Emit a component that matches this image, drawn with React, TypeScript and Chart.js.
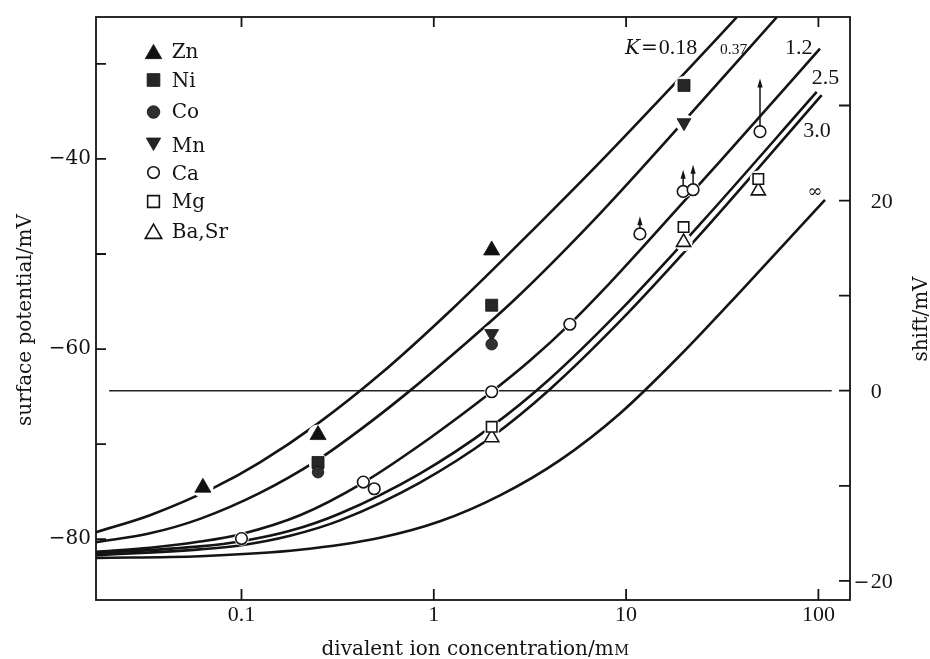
import React, { useEffect, useRef } from 'react';
import { Chart, registerables } from 'chart.js';
import { drawPoint } from 'chart.js/helpers';

Chart.register(...registerables);

// ---------------- data ----------------
const concTicks = [0.1, 1, 10, 100];
const concTickLabels = ['0.1', '1', '10', '100'];
const potTicks = [-80, -70, -60, -50, -40, -30];
const potTickLabels = ['−80', '', '−60', '', '−40', ''];
const shiftTicks = [-20, -10, 0, 10, 20, 30];
const shiftTickLabels = ['−20', '', '0', '', '20', ''];

const curveLabels = ['0.18', '0.37', '1.2', '2.5', '3.0', '∞'];

const k018Conc = [0.0175, 0.03343, 0.07282, 0.1248, 0.247, 0.5252, 1.243, 3.567, 7.317, 19.77, 37.73];
const k018Pot = [-79.27, -77.48, -74.53, -71.92, -67.9, -62.66, -55.81, -46.72, -40.34, -31.15, -25.07];

const k037Conc = [0.0175, 0.03343, 0.06083, 0.1248, 0.2461, 0.4132, 0.7228, 1.369, 2.644, 7.317, 22.28, 60.91];
const k037Pot = [-80.31, -79.38, -77.86, -75.13, -71.74, -68.5, -64.66, -59.91, -54.76, -45.75, -34.98, -25.07];

const k12Conc = [0.0175, 0.03343, 0.06083, 0.1002, 0.2014, 0.4299, 0.9554, 2.0, 3.165, 5.108, 8.246, 13.31, 30.78, 101.9];
const k12Pot = [-81.33, -80.9, -80.25, -79.44, -77.48, -74.04, -69.35, -64.5, -61.21, -57.35, -53.03, -48.44, -40.25, -28.41];

const k25Conc = [0.0175, 0.06083, 0.1002, 0.1788, 0.3252, 0.8476, 2.0, 4.021, 9.297, 24.23, 97.99];
const k25Pot = [-81.47, -80.75, -80.21, -79.12, -77.29, -73.09, -68.13, -63.12, -55.96, -46.87, -32.95];

const k30Conc = [0.0175, 0.06083, 0.1002, 0.1788, 0.3252, 0.8476, 2.0, 4.021, 9.297, 24.23, 104.0];
const k30Pot = [-81.68, -81.07, -80.63, -79.64, -78.02, -74.04, -69.23, -64.22, -57.07, -47.97, -33.28];

const kInfConc = [0.0175, 0.06083, 0.2014, 0.5252, 1.077, 2.21, 4.532, 9.297, 19.07, 39.11, 108.2];
const kInfPot = [-81.96, -81.79, -81.11, -79.85, -78.12, -75.39, -71.68, -66.77, -60.67, -54.0, -44.3];

const zeroLineConc = [0.0205, 117.3];
const zeroLineShift = [0, 0];

const znConc = [0.063, 0.25, 2.0];
const znPot = [-74.57, -69.03, -49.61];
const niConc = [0.25, 2.0, 20];
const niPot = [-71.93, -55.39, -32.27];
const coConc = [0.25, 2.0];
const coPot = [-72.95, -59.49];
const mnConc = [2.0, 20];
const mnPot = [-58.37, -36.19];
const caConc = [0.1, 0.43, 0.49, 2.0, 5.1, 11.8, 19.8, 22.3, 49.7];
const caPot = [-79.93, -73.99, -74.69, -64.49, -57.39, -47.89, -43.42, -43.24, -37.13];
const caLowerBoundTo: (number | null)[] = [null, null, null, null, null, -46.04, -41.14, -40.62, -31.54];
const mgConc = [2.0, 19.9, 48.7];
const mgPot = [-68.18, -47.17, -42.11];
const baSrConc = [2.0, 19.9, 48.7];
const baSrPot = [-69.31, -48.77, -43.35];

// ---------------- styling ----------------
const TEXT_FONT = '"DejaVu Serif", "Liberation Serif", serif';
const NUM_FONT = '"Liberation Serif", "DejaVu Serif", serif';
const INK = '#141414';

const pts = (xs: number[], ys: number[]) => xs.map((x, i) => ({ x, y: ys[i] }));

const curves = [
  [k018Conc, k018Pot],
  [k037Conc, k037Pot],
  [k12Conc, k12Pot],
  [k25Conc, k25Pot],
  [k30Conc, k30Pot],
  [kInfConc, kInfPot],
];

type Series = {
  label: string; conc: number[]; pot: number[]; style: string; rot: number;
  r: number; legendR: number; fill: string; bw: number; order: number; halo: number;
};

const markerSeries: Series[] = [
  { label: 'Zn', conc: znConc, pot: znPot, style: 'triangle', rot: 0, r: 9.3, legendR: 9.5, fill: '#111', bw: 0.8, order: 1, halo: 10.5 },
  { label: 'Ni', conc: niConc, pot: niPot, style: 'rect', rot: 0, r: 8.5, legendR: 9, fill: '#262626', bw: 0.8, order: 1, halo: 9.5 },
  { label: 'Co', conc: coConc, pot: coPot, style: 'circle', rot: 0, r: 5.8, legendR: 6.3, fill: '#303030', bw: 0.8, order: 0, halo: 7.3 },
  { label: 'Mn', conc: mnConc, pot: mnPot, style: 'triangle', rot: 180, r: 8, legendR: 8.3, fill: '#262626', bw: 0.8, order: 1, halo: 9 },
  { label: 'Ca', conc: caConc, pot: caPot, style: 'circle', rot: 0, r: 5.8, legendR: 5.8, fill: '#ffffff', bw: 1.6, order: 1, halo: 7.3 },
  { label: 'Mg', conc: mgConc, pot: mgPot, style: 'rect', rot: 0, r: 7.4, legendR: 8.3, fill: '#ffffff', bw: 1.6, order: 1, halo: 8.5 },
  { label: 'Ba,Sr', conc: baSrConc, pot: baSrPot, style: 'triangle', rot: 0, r: 8.2, legendR: 9.5, fill: '#ffffff', bw: 1.6, order: 1, halo: 9 },
];

// layout of annotations (positions in data units of the axes)
const curveLabelAnchors = [
  { c: 9.87, v: -28.92, size: 22 },
  { c: 30.8, v: -28.92, size: 15.5 },
  { c: 67.05, v: -28.92, size: 22 },
  { c: 92.3, v: -32.07, size: 22 },
  { c: 83.5, v: -37.65, size: 22 },
  { c: 96.0, v: -43.52, size: 18 },
];
const LEGEND_MARK_X = 153.5;
const LEGEND_TEXT_X = 171.7;
const legendMarkY = [53.9, 80, 112, 142.2, 172.5, 201.5, 233.6];
const legendTextBase = [58.3, 87.3, 118.3, 151.7, 180, 208, 238.3];

const decorPlugin = {
  id: 'decor',
  afterDatasetsDraw(chart: any) {
    const { ctx, chartArea: a, scales } = chart;
    const x = scales.x, y = scales.y, y2 = scales.y2;
    ctx.save();

    // frame
    ctx.strokeStyle = INK;
    ctx.lineWidth = 1.8;
    ctx.strokeRect(a.left, a.top, a.right - a.left, a.bottom - a.top);

    // inward tick marks
    ctx.beginPath();
    potTicks.forEach((v) => {
      const p = y.getPixelForValue(v);
      ctx.moveTo(a.left, p); ctx.lineTo(a.left + 10, p);
    });
    shiftTicks.forEach((v) => {
      const p = y2.getPixelForValue(v);
      ctx.moveTo(a.right, p); ctx.lineTo(a.right - 11, p);
    });
    concTicks.forEach((v) => {
      const p = x.getPixelForValue(v);
      ctx.moveTo(p, a.bottom); ctx.lineTo(p, a.bottom - 11);
      ctx.moveTo(p, a.top); ctx.lineTo(p, a.top + 10);
    });
    ctx.stroke();

    // right axis labels (digits aligned, minus hanging)
    ctx.fillStyle = INK;
    shiftTicks.forEach((v, i) => {
      const lab = shiftTickLabels[i];
      if (!lab) return;
      const p = y2.getPixelForValue(v) + 7.4;
      const digits = lab.replace('−', '');
      ctx.font = `22px ${NUM_FONT}`;
      ctx.textAlign = 'left';
      ctx.textBaseline = 'alphabetic';
      ctx.fillText(digits, a.right + 20.7, p);
      if (lab.startsWith('−')) {
        ctx.font = `19px ${TEXT_FONT}`;
        ctx.textAlign = 'right';
        ctx.fillText('−', a.right + 19.5, p);
      }
    });

    // Ca lower-bound arrows
    ctx.lineWidth = 1.5;
    caConc.forEach((c, i) => {
      const tip = caLowerBoundTo[i];
      if (tip == null) return;
      const px = x.getPixelForValue(c);
      const py0 = y.getPixelForValue(caPot[i]) - 5.8;
      const py1 = y.getPixelForValue(tip);
      ctx.beginPath();
      ctx.moveTo(px, py0); ctx.lineTo(px, py1 + 6);
      ctx.stroke();
      ctx.beginPath();
      ctx.moveTo(px, py1); ctx.lineTo(px - 2.6, py1 + 9); ctx.lineTo(px + 2.6, py1 + 9);
      ctx.closePath(); ctx.fill();
    });

    // curve labels
    ctx.textBaseline = 'alphabetic';
    ctx.textAlign = 'left';
    curveLabelAnchors.forEach((an, i) => {
      const px = x.getPixelForValue(an.c);
      const py = y.getPixelForValue(an.v);
      if (i === 0) {
        ctx.font = `italic 20px ${TEXT_FONT}`;
        ctx.fillText('K', px, py);
        let cx = px + ctx.measureText('K').width + 1;
        ctx.font = `20px ${TEXT_FONT}`;
        ctx.fillText('=', cx, py);
        cx += ctx.measureText('=').width + 1;
        ctx.font = `${an.size}px ${NUM_FONT}`;
        ctx.fillText(curveLabels[0], cx, py);
      } else if (curveLabels[i] === '∞') {
        ctx.font = `${an.size}px ${TEXT_FONT}`;
        ctx.textAlign = 'center';
        ctx.textBaseline = 'middle';
        ctx.fillText(curveLabels[i], px, py);
        ctx.textAlign = 'left';
        ctx.textBaseline = 'alphabetic';
      } else {
        ctx.font = `${an.size}px ${NUM_FONT}`;
        ctx.fillText(curveLabels[i], px, py);
      }
    });

    // legend
    markerSeries.forEach((s, i) => {
      ctx.fillStyle = s.fill;
      ctx.strokeStyle = INK;
      ctx.lineWidth = s.bw;
      drawPoint(ctx, { pointStyle: s.style, rotation: s.rot, radius: s.legendR, borderWidth: s.bw }, LEGEND_MARK_X, legendMarkY[i]);
      ctx.fillStyle = INK;
      ctx.font = `20px ${TEXT_FONT}`;
      ctx.textAlign = 'left';
      ctx.textBaseline = 'alphabetic';
      ctx.fillText(s.label, LEGEND_TEXT_X, legendTextBase[i]);
    });

    // axis titles
    ctx.fillStyle = INK;
    ctx.font = `20px ${TEXT_FONT}`;
    ctx.textAlign = 'center';
    ctx.textBaseline = 'alphabetic';
    ctx.save();
    ctx.translate(30.5, 320);
    ctx.rotate(-Math.PI / 2);
    ctx.fillText('surface potential/mV', 0, 0);
    ctx.restore();

    ctx.save();
    ctx.translate(927, 319);
    ctx.rotate(-Math.PI / 2);
    ctx.fillText('shift/mV', 0, 0);
    ctx.restore();

    const main = 'divalent ion concentration/m';
    ctx.font = `20px ${TEXT_FONT}`;
    const w1 = ctx.measureText(main).width;
    ctx.font = `14.5px ${TEXT_FONT}`;
    const w2 = ctx.measureText('M').width;
    const start = 475 - (w1 + w2) / 2;
    ctx.textAlign = 'left';
    ctx.font = `20px ${TEXT_FONT}`;
    ctx.fillText(main, start, 655);
    ctx.font = `14.5px ${TEXT_FONT}`;
    ctx.fillText('M', start + w1 + 0.5, 655);

    ctx.restore();
  },
};

export default function App() {
  const ref = useRef<HTMLCanvasElement>(null);

  useEffect(() => {
    const canvas = ref.current;
    if (!canvas) return;

    const datasets: any[] = [];
    curves.forEach(([cx, cy]) => {
      datasets.push({
        data: pts(cx, cy),
        showLine: true,
        pointRadius: 0,
        borderColor: INK,
        borderWidth: 2.6,
        cubicInterpolationMode: 'monotone',
        fill: false,
        order: 10,
        xAxisID: 'x',
        yAxisID: 'y',
      });
    });
    datasets.push({
      data: pts(zeroLineConc, zeroLineShift),
      showLine: true,
      pointRadius: 0,
      borderColor: '#222',
      borderWidth: 1.6,
      fill: false,
      order: 11,
      xAxisID: 'x',
      yAxisID: 'y2',
    });
    markerSeries.forEach((s) => {
      datasets.push({
        data: pts(s.conc, s.pot),
        showLine: false,
        pointStyle: 'circle',
        pointRadius: s.halo,
        pointBackgroundColor: '#ffffff',
        pointBorderWidth: 0,
        pointBorderColor: '#ffffff',
        order: 5,
        xAxisID: 'x',
        yAxisID: 'y',
      });
    });
    markerSeries.forEach((s) => {
      datasets.push({
        label: s.label,
        data: pts(s.conc, s.pot),
        showLine: false,
        pointStyle: s.style,
        pointRotation: s.rot,
        pointRadius: s.r,
        pointBackgroundColor: s.fill,
        pointBorderColor: INK,
        pointBorderWidth: s.bw,
        order: s.order,
        xAxisID: 'x',
        yAxisID: 'y',
      });
    });

    const chart = new Chart(canvas, {
      type: 'scatter',
      data: { datasets },
      options: {
        animation: false,
        responsive: false,
        devicePixelRatio: 1,
        events: [],
        layout: { padding: { top: 15, left: 0, right: 0, bottom: 0 } },
        plugins: { legend: { display: false }, tooltip: { enabled: false } },
        scales: {
          x: {
            type: 'logarithmic',
            position: 'bottom',
            min: 0.017513,
            max: 146.0,
            afterBuildTicks: (s: any) => { s.ticks = concTicks.map((v) => ({ value: v })); },
            afterFit: (s: any) => { s.height = 59; },
            grid: { display: false, drawTicks: false },
            border: { display: false },
            ticks: {
              autoSkip: false,
              maxRotation: 0,
              padding: 2,
              color: INK,
              font: { family: NUM_FONT, size: 22 },
              callback: (v: any) => {
                const i = concTicks.indexOf(Number(v));
                return i >= 0 ? concTickLabels[i] : '';
              },
            },
          },
          y: {
            type: 'linear',
            position: 'left',
            min: -86.394,
            max: -25.073,
            afterBuildTicks: (s: any) => { s.ticks = potTicks.map((v) => ({ value: v })); },
            afterFit: (s: any) => { s.width = 96; },
            grid: { display: false, drawTicks: false },
            border: { display: false },
            ticks: {
              padding: 5,
              color: INK,
              font: { family: TEXT_FONT, size: 20 },
              callback: (v: any) => {
                const i = potTicks.indexOf(Number(v));
                return i >= 0 ? potTickLabels[i] : '';
              },
            },
          },
          y2: {
            type: 'linear',
            position: 'right',
            min: -22.014,
            max: 39.307,
            afterBuildTicks: (s: any) => { s.ticks = shiftTicks.map((v) => ({ value: v })); },
            afterFit: (s: any) => { s.width = 80; },
            grid: { display: false, drawTicks: false },
            border: { display: false },
            ticks: { display: false },
          },
        },
      },
      plugins: [decorPlugin],
    } as any);

    return () => chart.destroy();
  }, []);

  return (
    <div style={{ position: 'absolute', left: 0, top: 0, width: 930, height: 659, background: '#ffffff' }}>
      <canvas ref={ref} width={930} height={659} style={{ display: 'block', width: 930, height: 659 }} />
    </div>
  );
}
